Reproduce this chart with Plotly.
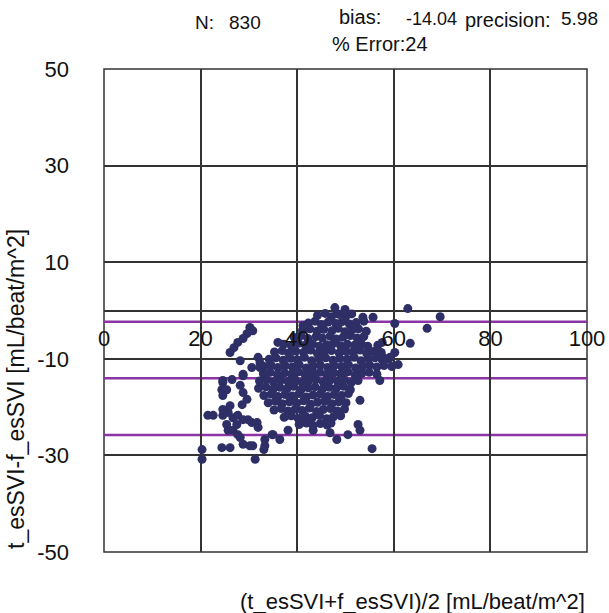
import plotly.graph_objects as go

# ---- data ----
# dense central cloud (mean, difference)
blob_mean = [
    44.2, 45.8, 47.1, 48.6, 50.1, 51.3,
    42.3, 43.7, 45.0, 46.4, 48.0, 49.3, 50.8, 52.2, 53.8,
    41.1, 42.6, 44.1, 45.5, 47.2, 48.5, 49.9, 51.4, 52.7, 54.3,
    39.4, 40.8, 42.2, 43.9, 45.2, 46.8, 48.1, 49.5, 51.0, 52.4, 53.8,
    37.2, 38.8, 40.3, 41.7, 43.2, 44.6, 46.1, 47.5, 49.0, 50.4, 51.9, 53.3, 54.6,
    35.3, 36.9, 38.2, 39.7, 41.3, 42.8, 44.2, 45.6, 47.1, 48.7, 50.1, 51.5, 53.0, 54.4, 55.9, 57.4,
    34.2, 35.6, 37.1, 38.6, 40.0, 41.5, 43.0, 44.5, 45.9, 47.4, 48.8, 50.3, 51.8, 53.2, 54.7, 56.1, 57.6, 59.0,
    33.1, 34.6, 36.0, 37.5, 39.0, 40.4, 41.9, 43.3, 44.8, 46.3, 47.7, 49.2, 50.6, 52.1, 53.6, 55.0, 56.5, 58.0, 59.6,
    33.0, 34.4, 35.9, 37.4, 38.8, 40.3, 41.7, 43.2, 44.7, 46.1, 47.6, 49.0, 50.5, 52.0, 53.4, 54.9, 56.5,
    32.2, 33.7, 35.1, 36.6, 38.1, 39.5, 41.0, 42.4, 43.9, 45.4, 46.8, 48.3, 49.7, 51.2, 52.6,
    32.0, 33.5, 35.0, 36.4, 37.9, 39.3, 40.8, 42.3, 43.7, 45.2, 46.6, 48.1, 49.6, 51.0,
    33.1, 34.6, 36.0, 37.5, 39.0, 40.4, 41.9, 43.3, 44.8, 46.3, 47.7, 49.2, 50.6,
    34.0, 35.5, 36.9, 38.4, 39.9, 41.3, 42.8, 44.2, 45.7, 47.2, 48.6, 50.1,
    35.2, 36.7, 38.1, 39.6, 41.0, 42.5, 44.0, 45.4, 46.9, 48.3, 49.8,
    37.3, 38.8, 40.2, 41.7, 43.1, 44.6, 46.1, 47.5, 49.0,
    40.4, 41.9, 43.3, 44.8, 46.2, 47.0,
]
blob_diff = [
    -1.0, -0.6, -1.3, -0.8, -1.2, -0.7,
    -2.6, -2.2, -2.9, -2.4, -2.7, -2.3, -2.8, -2.5, -2.2,
    -4.1, -3.8, -4.3, -3.9, -4.2, -3.7, -4.4, -4.0, -3.8, -4.3,
    -5.6, -5.2, -5.8, -5.4, -5.7, -5.3, -5.9, -5.5, -5.2, -5.7, -5.4,
    -7.0, -7.3, -6.8, -7.2, -6.9, -7.4, -7.1, -6.8, -7.3, -7.0, -7.2, -6.9, -7.4,
    -8.6, -8.3, -8.8, -8.4, -8.7, -8.2, -8.9, -8.5, -8.3, -8.8, -8.4, -8.6, -8.2, -8.9, -8.5, -8.7,
    -10.1, -9.8, -10.3, -9.9, -10.2, -9.7, -10.4, -10.0, -9.8, -10.3, -9.9, -10.1, -9.7, -10.4, -10.0, -9.8, -10.2, -10.0,
    -11.6, -11.3, -11.8, -11.4, -11.7, -11.2, -11.9, -11.5, -11.3, -11.8, -11.4, -11.6, -11.2, -11.9, -11.5, -11.3, -11.7, -11.4, -11.6,
    -13.1, -12.8, -13.3, -12.9, -13.2, -12.7, -13.4, -13.0, -12.8, -13.3, -12.9, -13.1, -12.7, -13.4, -13.0, -12.8, -13.2,
    -14.6, -14.3, -14.8, -14.4, -14.7, -14.2, -14.9, -14.5, -14.3, -14.8, -14.4, -14.6, -14.2, -14.9, -14.5,
    -16.1, -15.8, -16.3, -15.9, -16.2, -15.7, -16.4, -16.0, -15.8, -16.3, -15.9, -16.1, -15.7, -16.4,
    -17.6, -17.3, -17.8, -17.4, -17.7, -17.2, -17.9, -17.5, -17.3, -17.8, -17.4, -17.6, -17.2,
    -19.1, -18.8, -19.3, -18.9, -19.2, -18.7, -19.4, -19.0, -18.8, -19.3, -18.9, -19.1,
    -20.6, -20.3, -20.8, -20.4, -20.7, -20.2, -20.9, -20.5, -20.3, -20.8, -20.4,
    -22.1, -21.8, -22.3, -21.9, -22.2, -21.7, -22.4, -22.0, -21.8,
    -23.6, -23.3, -23.8, -23.4, -23.7, -23.3,
]
# scattered points around the cloud
outer_mean = [
    30.2, 30.8, 29.6, 28.8, 27.7, 26.9, 26.1, 28.2, 31.9, 32.3, 28.8, 24.6, 24.4, 25.4,
    28.2, 28.8, 29.6, 28.6, 26.1, 24.6, 24.6, 21.5, 22.6, 24.6, 25.7, 26.7, 27.7, 28.8,
    29.8, 30.6, 31.7, 31.9, 27.5, 25.4, 25.7, 26.7, 27.7, 28.2, 28.8, 30.2, 30.8, 33.3,
    33.3, 34.8, 24.4, 26.1, 20.3, 20.3, 31.3, 24.6, 26.5, 28.8, 30.6, 32.3,
    49.9, 62.9, 53.6, 55.7, 60.2, 66.9, 63.4, 56.7, 57.6, 60.2, 59.2, 60.9, 57.8, 57.1,
    53.0, 52.6, 53.0, 50.5, 55.5, 69.6, 47.8, 48.2,
    33.1, 48.2, 46.8, 43.3, 38.1, 36.4, 35.0, 37.9, 40.6, 36.0, 41.2,
]
outer_diff = [
    -3.5, -4.2, -4.8, -5.8, -6.6, -7.7, -8.7, -10.4, -9.7, -10.8, -13.5, -14.9, -16.4, -16.4,
    -15.5, -17.0, -18.4, -19.5, -19.7, -17.6, -20.5, -21.7, -21.7, -21.7, -21.1, -22.2, -21.7, -22.6,
    -22.6, -23.2, -23.2, -24.2, -23.6, -23.6, -24.8, -24.8, -25.7, -26.3, -27.7, -28.0, -28.0, -28.0,
    -26.7, -25.7, -28.4, -28.4, -28.8, -30.8, -30.8, -14.5, -14.3, -13.2, -11.8, -11.8,
    0.2, 0.4, -1.4, -1.4, -2.7, -3.7, -6.8, -7.2, -6.6, -8.7, -9.7, -11.2, -9.7, -14.5,
    -18.6, -23.6, -24.8, -25.7, -28.6, -1.3, 0.6, -0.6,
    -28.8, -26.7, -25.3, -24.8, -24.8, -26.7, -25.7, -21.7, -22.6, -6.6, -3.1,
]

bias = -14.04
precision = 5.98
upper_loa = bias + 1.96 * precision
lower_loa = bias - 1.96 * precision

x_ticks = [0, 20, 40, 60, 80, 100]
y_ticks = [50, 30, 10, -10, -30, -50]

mean_vals = blob_mean + outer_mean
diff_vals = blob_diff + outer_diff

# ---- figure ----
W, H = 609, 613
L, R, T, B = 104, 22, 69, 61
PW, PH = W - L - R, H - T - B


def px(xp):
    return (xp - L) / PW


def py(yp):
    return (H - B - yp) / PH


fig = go.Figure()
fig.add_trace(go.Scatter(
    x=mean_vals, y=diff_vals, mode="markers",
    marker=dict(size=9, color="#2e2f66", line=dict(width=0)),
    showlegend=False, hoverinfo="skip",
))

for yv in [upper_loa, bias, lower_loa]:
    fig.add_shape(type="line", xref="x", yref="y", x0=0, x1=100, y0=yv, y1=yv,
                  line=dict(color="#8a34a6", width=2.5), layer="below")

fig.add_shape(type="rect", xref="paper", yref="paper", x0=0, x1=1, y0=0, y1=1,
              line=dict(color="#333333", width=1.5), layer="below")

fig.update_layout(
    width=W, height=H,
    margin=dict(l=L, r=R, t=T, b=B, pad=0, autoexpand=False),
    paper_bgcolor="white", plot_bgcolor="white",
    font=dict(family="Liberation Sans, Arial, sans-serif", color="#111111"),
    xaxis=dict(
        range=[0, 100], tickvals=x_ticks, ticktext=[str(v) for v in x_ticks],
        showgrid=True, gridcolor="#333333", gridwidth=1.5,
        zeroline=False, showline=False, automargin=False,
        anchor="free", position=0.5,
        ticks="", ticklabelstandoff=12,
        tickfont=dict(size=22, color="#111111"),
    ),
    yaxis=dict(
        range=[-50, 50], tickvals=y_ticks, ticktext=[str(v) for v in y_ticks],
        showgrid=True, gridcolor="#333333", gridwidth=1.5,
        zeroline=True, zerolinecolor="#333333", zerolinewidth=1.5,
        showline=False, ticks="", ticklabelstandoff=34, automargin=False,
        tickfont=dict(size=22, color="#111111"),
    ),
)

ann = [
    ("N:", 193, 23, 19),
    ("830", 227, 23, 19),
    ("bias:", 337, 17, 20),
    ("-14.04", 404, 19, 18),
    ("precision:", 463, 20, 20),
    ("5.98", 559, 19, 19),
    ("% Error:24", 330, 44, 20),
]
for text, xp, yp, size in ann:
    fig.add_annotation(text=text, xref="paper", yref="paper", x=px(xp), y=py(yp),
                       xanchor="left", yanchor="middle", showarrow=False,
                       font=dict(size=size, color="#111111"))

fig.add_annotation(text="(t_esSVI+f_esSVI)/2 [mL/beat/m^2]", xref="paper", yref="paper",
                   x=px(587), y=py(601), xanchor="right", yanchor="middle",
                   showarrow=False, font=dict(size=22, color="#111111"))
fig.add_annotation(text="t_esSVI-f_esSVI [mL/beat/m^2]", xref="paper", yref="paper",
                   x=px(16), y=py(389), xanchor="center", yanchor="middle", textangle=-90,
                   showarrow=False, font=dict(size=23, color="#111111"))

fig.write_html("out.html")
